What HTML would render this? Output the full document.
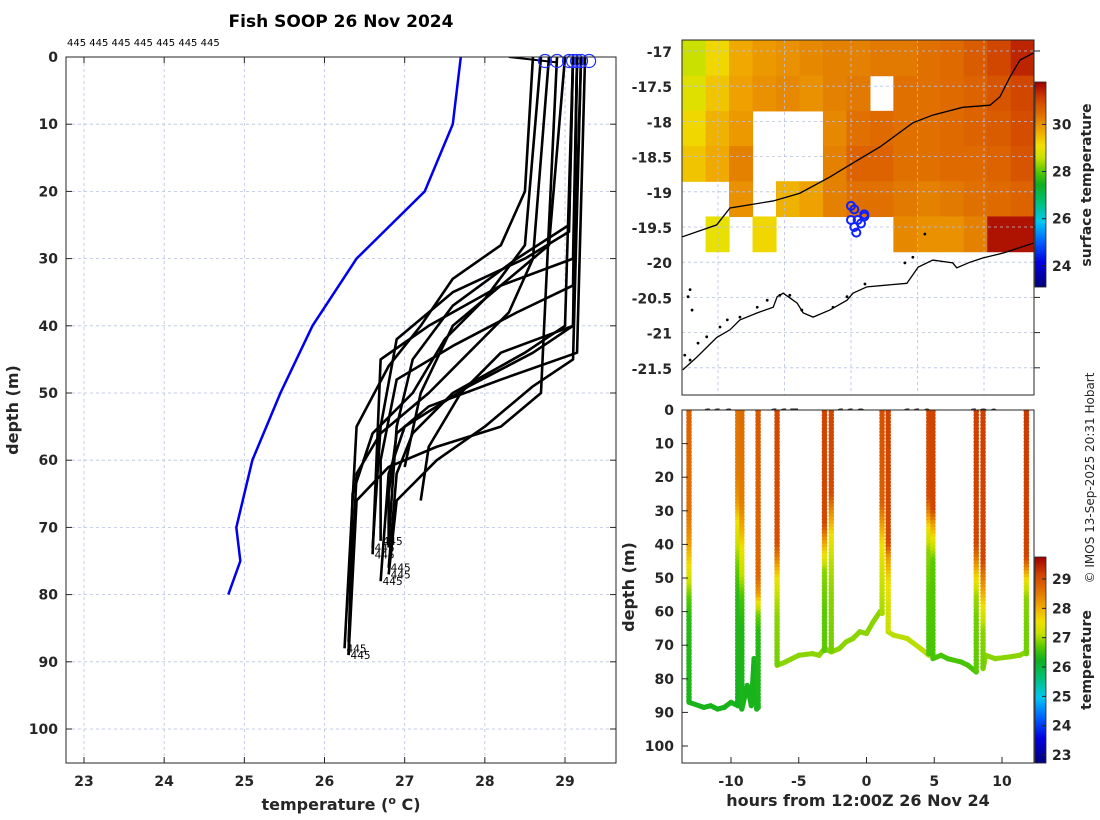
<!DOCTYPE html>
<html><head><meta charset="utf-8"><style>
html,body{margin:0;padding:0;background:#fff;}
svg{display:block;font-family:"DejaVu Sans","Liberation Sans",sans-serif;}
.tk{font-size:14px;font-weight:bold;fill:#262626;}
.ttl{font-size:16px;font-weight:bold;fill:#262626;}
</style></head><body>
<svg id="fig" width="1100" height="820" viewBox="0 0 1100 820" xmlns="http://www.w3.org/2000/svg">
<defs>
<clipPath id="clipL"><rect x="66" y="57" width="550" height="706"/></clipPath>
<clipPath id="clipM"><rect x="682" y="40" width="352" height="355"/></clipPath>
<clipPath id="clipS"><rect x="682" y="410" width="352" height="353"/></clipPath>
</defs>
<text x="341" y="27" text-anchor="middle" style="font-size:17px;font-weight:bold" fill="#000">Fish SOOP 26 Nov 2024</text>
<text x="67" y="46" style="font-size:10px" fill="#000">445 445 445 445 445 445 445</text>
<g id="gL"></g><g id="gM"></g><g id="gS"></g>
<text transform="translate(1094,478) rotate(-90)" text-anchor="middle" style="font-size:12px" fill="#262626">© IMOS 13-Sep-2025 20:31 Hobart</text>
</svg>
<script>
// ---------- data ----------
const climDepth = [0,10,20,30,40,50,60,70,75,80];
const climTemp  = [27.7,27.6,27.25,26.4,25.85,25.45,25.1,24.9,24.95,24.8];
const dropTimes = [-13.1,-9.5,-9.2,-8.0,-6.6,-3.1,-2.6,1.15,1.6,4.6,4.9,8.1,8.6,11.8];
const dropProfiles = [
 [[0,28.8],[30,28.6],[38,28.3],[44,27.8],[50,27.3],[56,26.7],[62,26.4],[87,26.3]],
 [[0,28.6],[20,28.5],[28,28.2],[33,27.6],[40,27.2],[46,26.8],[55,26.4],[88,26.25]],
 [[0,28.7],[28,28.5],[36,28.0],[42,27.5],[50,27.1],[56,26.6],[65,26.35],[89,26.3]],
 [[0,28.9],[50,28.7],[55,28.2],[58,27.4],[61,26.8],[66,26.4],[89,26.3]],
 [[0,29.1],[40,29.0],[44,28.5],[50,27.6],[56,27.1],[62,26.9],[76,26.8]],
 [[0,29.15],[34,29.1],[38,28.4],[43,27.6],[48,26.9],[60,26.7],[72,26.7]],
 [[0,29.1],[25,29.05],[30,28.4],[37,27.6],[45,27.1],[55,26.9],[72,26.8]],
 [[0,29.0],[28,28.8],[33,28.3],[40,27.6],[50,27.2],[61,27.0]],
 [[0,29.15],[40,29.1],[44,28.2],[50,27.7],[58,27.3],[66,27.2]],
 [[0,29.1],[26,29.05],[30,28.5],[35,27.6],[42,26.9],[55,26.7],[73,26.6]],
 [[0,29.15],[30,29.1],[34,28.2],[40,27.3],[45,26.7],[74,26.6]],
 [[0,29.2],[40,29.1],[44,28.6],[49,27.8],[55,27.0],[62,26.8],[78,26.7]],
 [[0,29.2],[45,29.1],[49,28.6],[55,28.0],[60,27.4],[66,26.9],[77,26.8]],
 [[0,29.25],[44,29.15],[48,28.2],[52,27.3],[56,26.9],[65,26.8],[73,26.8]]
];
const surfMarkTemps = [28.75,28.9,29.05,29.1,29.15,29.2,29.3];
const bottomSegTimes = [
 [-13.1,-12,-11.5,-11,-10.5,-10,-9.5,-9.3,-9.2,-8.8,-8.5,-8.3,-8.1,-8.0],
 [-6.6,-6,-5,-4,-3.5,-3.1,-2.6,-2,-1.5,-1,-0.5,0,0.5,1.0,1.15],
 [1.6,2,3,4,4.6],
 [4.9,5.5,6,7,7.5,8.1],
 [8.6,8.8,9.5,10.5,11.3,11.8]];
const bottomSegDepths = [
 [87,88.5,88,89,88.5,87,88,88,89,82,88,74,89,88],
 [76,75,73,72.5,73,71,72,71,69,68,66,66.5,63,60,60],
 [66,67,68,71,73],
 [74,73,74,75,76,78],
 [77,73,74,73.5,73,72]];
const bottomSegTemps = [26.3,26.9,27.1,26.6,26.9];
const latTicks = [-17,-17.5,-18,-18.5,-19,-19.5,-20,-20.5,-21,-21.5];
const lonTicks = [116,117,118,119,120];
const sstRows = [
 [28.6,29.2,29.7,29.9,30.0,30.1,30.2,30.2,30.3,30.3,30.4,30.5,30.7,31.0,31.4],
 [28.9,29.4,29.8,30.0,30.1,30.0,30.2,30.3,null,30.4,30.4,30.5,30.6,30.8,31.0],
 [29.2,29.6,29.9,null,null,null,30.1,30.4,30.5,30.4,30.4,30.5,30.6,30.7,30.9],
 [29.4,29.7,30.2,null,null,null,30.2,30.6,30.6,30.4,30.4,30.5,30.5,30.6,30.8],
 [null,null,30.0,null,29.6,29.8,30.2,30.4,30.4,30.3,30.2,30.3,30.4,30.5,30.6],
 [null,29.0,null,29.2,null,null,null,null,null,30.1,30.0,30.0,30.2,31.6,31.6]];
const sstLon0 = 115.46, sstDLon = 0.353, sstLat0 = -16.85, sstDLat = 0.5;
const coastN = [[115.46,-19.64],[115.98,-19.47],[116.18,-19.23],[116.83,-19.13],[117.23,-19.02],[117.68,-18.79],[118.03,-18.59],[118.44,-18.36],[118.93,-18.02],[119.23,-17.91],[119.68,-17.80],[120.09,-17.77],[120.24,-17.65],[120.39,-17.37],[120.54,-17.13],[120.74,-17.03]];
const coastS = [[115.47,-21.53],[115.68,-21.35],[115.98,-21.07],[116.18,-20.96],[116.33,-20.82],[116.59,-20.72],[116.83,-20.64],[116.89,-20.49],[116.98,-20.44],[117.19,-20.58],[117.28,-20.72],[117.43,-20.78],[117.68,-20.68],[117.94,-20.54],[118.03,-20.44],[118.24,-20.35],[118.84,-20.30],[119.01,-20.07],[119.23,-19.97],[119.53,-20.01],[119.59,-20.08],[119.79,-20.0],[119.98,-19.94],[120.29,-19.87],[120.74,-19.73]];
const islands = [[115.58,-20.39],[115.55,-20.49],[115.61,-20.68],[115.50,-21.32],[115.58,-21.39],[115.70,-21.15],[115.83,-21.06],[116.03,-20.92],[116.14,-20.82],[116.33,-20.78],[116.59,-20.64],[116.74,-20.54],[116.93,-20.47],[117.08,-20.47],[117.26,-20.68],[117.73,-20.64],[117.94,-20.49],[118.21,-20.31],[118.81,-20.01],[118.93,-19.93],[119.11,-19.60]];
const trackLon = [118.0,118.05,118.2,118.1,118.0,118.15,118.05,118.2,118.08];
const trackLat = [-19.2,-19.25,-19.32,-19.4,-19.4,-19.45,-19.5,-19.35,-19.58];
const tempTicksL = [23,24,25,26,27,28,29];
const depthTicks = [0,10,20,30,40,50,60,70,80,90,100];
const hourTicks = [-10,-5,0,5,10];
const cb1Ticks = [24,26,28,30];
const cb2Ticks = [23,24,25,26,27,28,29];
const endLabelDrops = [4,5,9,10,11,12,1,2];

// ---------- scales ----------
const xL = t => 84 + (t-23)*80.17, yL = d => 57 + d*6.72;
const xM = lon => 718 + (lon-116)*66.5, yM = lat => 51 + (-17-lat)*70.4;
const xS = h => 866.5 + h*13.55, yS = d => 410 + d*3.36;
const cb1Min=23.1, cb1Max=31.8, cb2Min=22.73, cb2Max=29.75;
const yCb1 = t => 287 - (t-cb1Min)/(cb1Max-cb1Min)*205;
const yCb2 = t => 763 - (t-cb2Min)/(cb2Max-cb2Min)*206;
const stops=[[0,[0,0,122]],[0.12,[0,0,224]],[0.22,[0,96,255]],[0.32,[0,200,240]],[0.42,[0,192,112]],[0.5,[16,176,32]],[0.56,[80,200,0]],[0.63,[200,224,0]],[0.69,[240,224,0]],[0.76,[240,168,0]],[0.84,[224,112,0]],[0.92,[208,64,0]],[1,[160,0,0]]];
function cmap(v){v=Math.max(0,Math.min(1,v));for(let i=1;i<stops.length;i++){if(v<=stops[i][0]){const a=stops[i-1],b=stops[i],f=(v-a[0])/(b[0]-a[0]);return 'rgb('+a[1].map((c,k)=>Math.round(c+(b[1][k]-c)*f)).join(',')+')';}}return 'rgb(160,0,0)';}
const c1 = t => cmap((t-cb1Min)/(cb1Max-cb1Min));
const c2 = t => cmap((t-cb2Min)/(cb2Max-cb2Min));

const NS='http://www.w3.org/2000/svg';
function el(tag,attrs,parent){const e=document.createElementNS(NS,tag);for(const k in attrs)e.setAttribute(k,attrs[k]);parent.appendChild(e);return e;}
function txt(s,x,y,cls,anchor,parent){const e=el('text',{x:x,y:y,'class':cls,'text-anchor':anchor},parent);e.textContent=s;return e;}

// ---------- left profile plot ----------
const gL=document.getElementById('gL');
let e=el('rect',{x:66,y:57,width:550,height:706,fill:'#fff'},gL);


tempTicksL.forEach(t=>{let g=el('line',{x1:xL(t),x2:xL(t),y1:57,y2:763,stroke:'#b8c0e0','stroke-dasharray':'3,3','stroke-width':0.8},gL);
 
 
 el('line',{x1:xL(t),x2:xL(t),y1:57,y2:63,stroke:'#262626'},gL);el('line',{x1:xL(t),x2:xL(t),y1:763,y2:757,stroke:'#262626'},gL);
 let l=txt(String(t),xL(t),786,'tk','middle',gL);
 
 });
depthTicks.forEach(d=>{let g=el('line',{x1:66,x2:616,y1:yL(d),y2:yL(d),stroke:'#b8c0e0','stroke-dasharray':'3,3','stroke-width':0.8},gL);
 
 
 el('line',{x1:66,x2:72,y1:yL(d),y2:yL(d),stroke:'#262626'},gL);el('line',{x1:616,x2:610,y1:yL(d),y2:yL(d),stroke:'#262626'},gL);
 let l=txt(String(d),58,yL(d)+5,'tk','end',gL);
 
 });
const pl=el('g',{'clip-path':'url(#clipL)'},gL);
e=el('polyline',{points:climDepth.map((d,i)=>xL(climTemp[i])+','+yL(d)).join(' '),fill:'none',stroke:'#0000ee','stroke-width':2.5},pl);


e=el('line',{x1:xL(28.3),y1:yL(0),x2:xL(28.9),y2:yL(0.8),stroke:'#000','stroke-width':2},pl);
dropProfiles.forEach((p,i)=>{const ln=el('polyline',{points:p.map(q=>xL(q[1])+','+yL(q[0])).join(' '),fill:'none',stroke:'#000','stroke-width':2.6,'stroke-linejoin':'round'},pl);
 
 });
endLabelDrops.forEach(i=>{const p=dropProfiles[i],q=p[p.length-1];const l=el('text',{x:xL(q[1])+2,y:yL(q[0])+4,'font-size':10.5,fill:'#000'},gL);l.textContent='445';
 
 });
surfMarkTemps.forEach(t=>{const c=el('circle',{cx:xL(t),cy:yL(0.6),r:6.5,fill:'none',stroke:'#2030ff','stroke-width':1.2},gL);
 
 });
el('rect',{x:66,y:57,width:550,height:706,fill:'none',stroke:'#262626','stroke-width':1},gL);
e=el('text',{x:341,y:810,'class':'ttl','text-anchor':'middle'},gL);
e.innerHTML='temperature (<tspan dy="-6" font-size="11">o</tspan><tspan dy="6"> C)</tspan>';


e=el('text',{transform:'translate(18,410) rotate(-90)','class':'ttl','text-anchor':'middle'},gL);e.textContent='depth (m)';



// ---------- map ----------
const gM=document.getElementById('gM');
const mp=el('g',{'clip-path':'url(#clipM)'},gM);
sstRows.forEach((row,j)=>row.forEach((v,i)=>{if(v===null)return;
 const x0=xM(sstLon0+i*sstDLon),x1=xM(sstLon0+(i+1)*sstDLon),y0=yM(sstLat0-j*sstDLat),y1=yM(sstLat0-(j+1)*sstDLat);
 const r=el('rect',{x:x0,y:y0,width:x1-x0+0.6,height:y1-y0+0.6,fill:c1(v)},mp);
 
 }));
lonTicks.forEach(t=>{el('line',{x1:xM(t),x2:xM(t),y1:40,y2:395,stroke:'#b8c0e0','stroke-dasharray':'3,3','stroke-width':0.8},mp);});
latTicks.forEach(t=>{el('line',{x1:682,x2:1034,y1:yM(t),y2:yM(t),stroke:'#b8c0e0','stroke-dasharray':'3,3','stroke-width':0.8},mp);
 el('line',{x1:1034,x2:1040,y1:yM(t),y2:yM(t),stroke:'#262626'},gM);
 const l=txt(String(t),672,yM(t)+6,'tk','end',gM);
 
 });
e=el('polyline',{points:coastN.map(q=>xM(q[0])+','+yM(q[1])).join(' '),fill:'none',stroke:'#000','stroke-width':1.3},mp);


e=el('polyline',{points:coastS.map(q=>xM(q[0])+','+yM(q[1])).join(' '),fill:'none',stroke:'#000','stroke-width':1.3},mp);


islands.forEach(q=>{el('circle',{cx:xM(q[0]),cy:yM(q[1]),r:1.4,fill:'#000'},mp);});
trackLon.forEach((lon,i)=>{const c=el('circle',{cx:xM(lon),cy:yM(trackLat[i]),r:4,fill:'none',stroke:'#1020ff','stroke-width':2},mp);
 
 });
el('rect',{x:682,y:40,width:352,height:355,fill:'none',stroke:'#262626','stroke-width':1},gM);
lonTicks.forEach(t=>{const l=txt(String(t),xM(t),419,'tk','middle',gM);
 
 });
// colorbar 1
for(let k=0;k<205;k++){const t=cb1Min+(k+0.5)/205*(cb1Max-cb1Min);el('rect',{x:1035,y:287-k-1,width:11,height:1.2,fill:c1(t)},gM);}
el('rect',{x:1035,y:82,width:11,height:205,fill:'none',stroke:'#262626','stroke-width':0.8},gM);
cb1Ticks.forEach(t=>{el('line',{x1:1046,x2:1042,y1:yCb1(t),y2:yCb1(t),stroke:'#262626'},gM);
 const l=txt(String(t),1052,yCb1(t)+5,'tk','start',gM);
 
 });
e=el('text',{transform:'translate(1091,185) rotate(-90)','class':'tk','text-anchor':'middle'},gM);e.textContent='surface temperature';



// ---------- section ----------
const gS=document.getElementById('gS');
el('rect',{x:640,y:410,width:395,height:353,fill:'#fff'},gS);
const sp=el('g',{'clip-path':'url(#clipS)'},gS);
function interp(p,d){for(let k=1;k<p.length;k++){if(d<=p[k][0]){const a=p[k-1],b=p[k];return a[1]+(b[1]-a[1])*(d-a[0])/(b[0]-a[0]);}}return p[p.length-1][1];}
bottomSegTimes.forEach((ts,s)=>{const ds=bottomSegDepths[s];
 for(let k=1;k<ts.length;k++){const x0=xS(ts[k-1]),x1=xS(ts[k]),y0=yS(ds[k-1]),y1=yS(ds[k]);const n=Math.max(1,Math.ceil(Math.hypot(x1-x0,y1-y0)/2));
  for(let m=0;m<=n;m++){const f=m/n;el('circle',{cx:x0+(x1-x0)*f,cy:y0+(y1-y0)*f,r:2.6,fill:c2(bottomSegTemps[s])},sp);}}});
dropTimes.forEach((h,i)=>{const p=dropProfiles[i],dmax=p[p.length-1][0];const g=el('g',{},sp);
 
 
 for(let d=0.5;d<=dmax;d+=1){el('circle',{cx:xS(h),cy:yS(d),r:2.8,fill:c2(interp(p,d))},g);}});
el('rect',{x:682,y:410,width:352,height:353,fill:'none',stroke:'#262626','stroke-width':1},gS);
depthTicks.forEach(d=>{el('line',{x1:682,x2:688,y1:yS(d),y2:yS(d),stroke:'#262626'},gS);
 const l=txt(String(d),674,yS(d)+5,'tk','end',gS);
 
 });
hourTicks.forEach(h=>{el('line',{x1:xS(h),x2:xS(h),y1:763,y2:757,stroke:'#262626'},gS);
 const l=txt(String(h),xS(h),786,'tk','middle',gS);
 
 });
e=txt('hours from 12:00Z 26 Nov 24',858,806,'ttl','middle',gS);


e=el('text',{transform:'translate(634,587) rotate(-90)','class':'ttl','text-anchor':'middle'},gS);e.textContent='depth (m)';


for(let k=0;k<206;k++){const t=cb2Min+(k+0.5)/206*(cb2Max-cb2Min);el('rect',{x:1035,y:763-k-1,width:11,height:1.2,fill:c2(t)},gS);}
el('rect',{x:1035,y:557,width:11,height:206,fill:'none',stroke:'#262626','stroke-width':0.8},gS);
cb2Ticks.forEach(t=>{el('line',{x1:1046,x2:1042,y1:yCb2(t),y2:yCb2(t),stroke:'#262626'},gS);
 const l=txt(String(t),1052,yCb2(t)+5,'tk','start',gS);
 
 });
e=el('text',{transform:'translate(1091,660) rotate(-90)','class':'tk','text-anchor':'middle'},gS);e.textContent='temperature';


</script>
</body></html>
